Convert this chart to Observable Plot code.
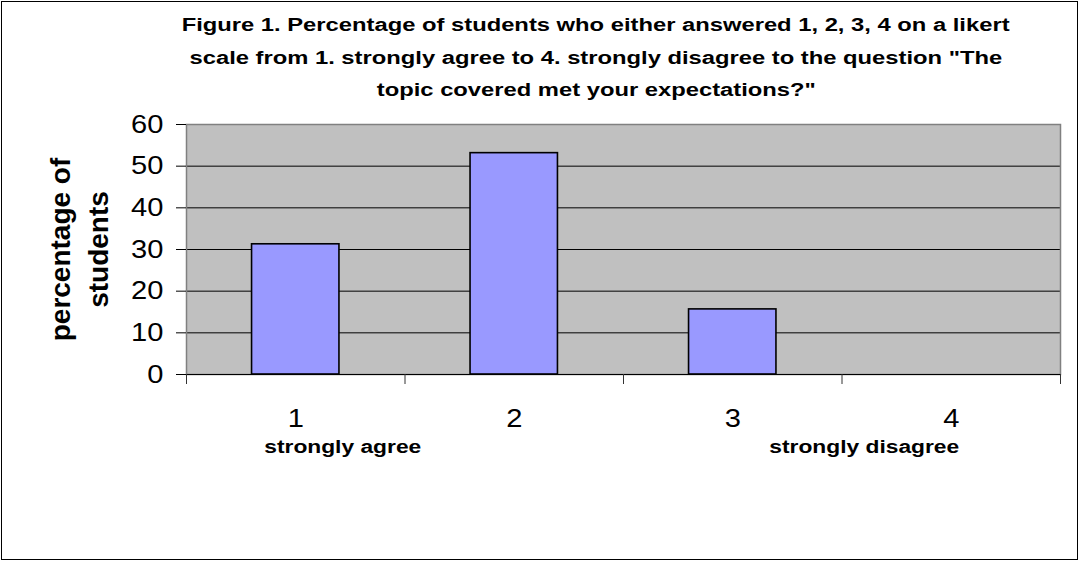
<!DOCTYPE html>
<html>
<head>
<meta charset="utf-8">
<script src="https://cdn.jsdelivr.net/npm/d3@7"></script>
<script src="https://cdn.jsdelivr.net/npm/@observablehq/plot@0.6"></script>
<style>
  html, body { margin: 0; padding: 0; background: #fff; }
  #wrap { position: relative; width: 1079px; height: 561px; background: #fff; overflow: hidden;
          font-family: "Liberation Sans", Arial, sans-serif; }
  #border { position: absolute; left: 1px; top: 1px; right: 1px; bottom: 1px; border: 1px solid #000; pointer-events: none; }
  #title { box-sizing: border-box; width: 1079px; height: 107px; padding-top: 9px; padding-left: 113px;
           text-align: center; font-weight: bold; font-size: 18px; line-height: 32.5px; color: #000; }
  #title span { display: inline-block; transform: scaleX(1.32); transform-origin: 50% 50%; white-space: nowrap; }
  #chart svg { display: block; }
</style>
</head>
<body>
<div id="wrap">
  <div id="title"></div>
  <div id="chart"></div>
  <div id="border"></div>
</div>
<script>
// ---- data ----
const categories = [1, 2, 3, 4];
const percentages = [31.25, 53.125, 15.625, 0];
const yTicks = [0, 10, 20, 30, 40, 50, 60];
const subLabels = ["strongly agree", "strongly disagree"];
const yLabelLines = ["percentage of", "students"];
const titleLines = [
  "Figure 1. Percentage of students who either answered 1, 2, 3, 4 on a likert",
  "scale from 1. strongly agree to 4. strongly disagree to the question \"The",
  "topic covered met your expectations?\""
];

// ---- build ----
const title = document.getElementById("title");
titleLines.forEach(t => {
  const line = document.createElement("div");
  const span = document.createElement("span");
  span.textContent = t;
  line.appendChild(span);
  title.appendChild(line);
});

const data = categories.map((c, i) => ({cat: c, value: percentages[i]}));
const boundaries = categories.map(c => c - 0.5).concat([categories[categories.length - 1] + 0.5]);
const halfBar = 0.2;
const font = "Liberation Sans, Arial, sans-serif";

const svg = Plot.plot({
  width: 1079,
  height: 454,
  marginTop: 17,
  marginBottom: 187,
  marginLeft: 186,
  marginRight: 19,
  style: {fontFamily: font, color: "#000", background: "transparent"},
  x: {type: "linear", domain: [0.5, 4.5], axis: null},
  y: {domain: [0, 60], axis: null},
  marks: [
    Plot.frame({fill: "#C0C0C0", stroke: null}),
    Plot.gridY(yTicks.filter(v => v > 0 && v < 60), {stroke: "#000", strokeOpacity: 1, strokeWidth: 1}),
    Plot.frame({stroke: "#808080", strokeWidth: 1.5}),
    Plot.rectY(data.filter(d => d.value > 0), {
      x1: d => d.cat - halfBar, x2: d => d.cat + halfBar, y: "value",
      fill: "#9999FF", stroke: "#000", strokeWidth: 1.6
    }),
    Plot.ruleY([0], {stroke: "#000", strokeWidth: 1.2}),
    Plot.axisY(yTicks, {anchor: "left", tickSize: 10, tickPadding: 13, fontSize: 26, label: null,
      tickFormat: d => String(d), className: "ytl"}),
    Plot.axisX(categories, {anchor: "bottom", tickSize: 0, tickPadding: 34, fontSize: 26, label: null,
      tickFormat: d => String(d), className: "xtl"}),
    Plot.axisX(boundaries, {anchor: "bottom", tickSize: 10, tickFormat: () => "", label: null, stroke: "#333"}),
    Plot.text([subLabels[0]], {x: () => categories[0], frameAnchor: "bottom", dx: 47, dy: 72,
      lineAnchor: "middle", textAnchor: "middle", fontSize: 19, fontWeight: "bold", className: "sub"}),
    Plot.text([subLabels[1]], {x: () => categories[3], frameAnchor: "bottom", dx: -87, dy: 72,
      lineAnchor: "middle", textAnchor: "middle", fontSize: 19, fontWeight: "bold", className: "sub"}),
    Plot.text([yLabelLines.join("\n")], {frameAnchor: "left", dx: -110, rotate: -90,
      textAnchor: "middle", lineAnchor: "middle", lineHeight: 1.36, fontSize: 28, fontWeight: "bold"})
  ]
});

document.getElementById("chart").appendChild(svg);

// horizontal stretch of the horizontal texts (about each text's anchor), as in the reference rendering
const SVGNS = "http://www.w3.org/2000/svg";
function stretch(selector, s) {
  svg.querySelectorAll(selector).forEach(t => {
    if (!t.textContent) return;
    const g = document.createElementNS(SVGNS, "g");
    t.parentNode.insertBefore(g, t);
    g.appendChild(t);
    const bb = g.getBBox();
    const anchor = getComputedStyle(t).textAnchor || t.getAttribute("text-anchor") ||
                   (t.parentNode.parentNode && t.parentNode.parentNode.getAttribute("text-anchor")) || "start";
    const ax = anchor === "middle" ? bb.x + bb.width / 2 : anchor === "end" ? bb.x + bb.width : bb.x;
    g.setAttribute("transform", `translate(${ax},0) scale(${s},1) translate(${-ax},0)`);
  });
}
stretch(".ytl text", 1.12);
stretch(".xtl text", 1.12);
stretch(".sub text", 1.2);
</script>
</body>
</html>
